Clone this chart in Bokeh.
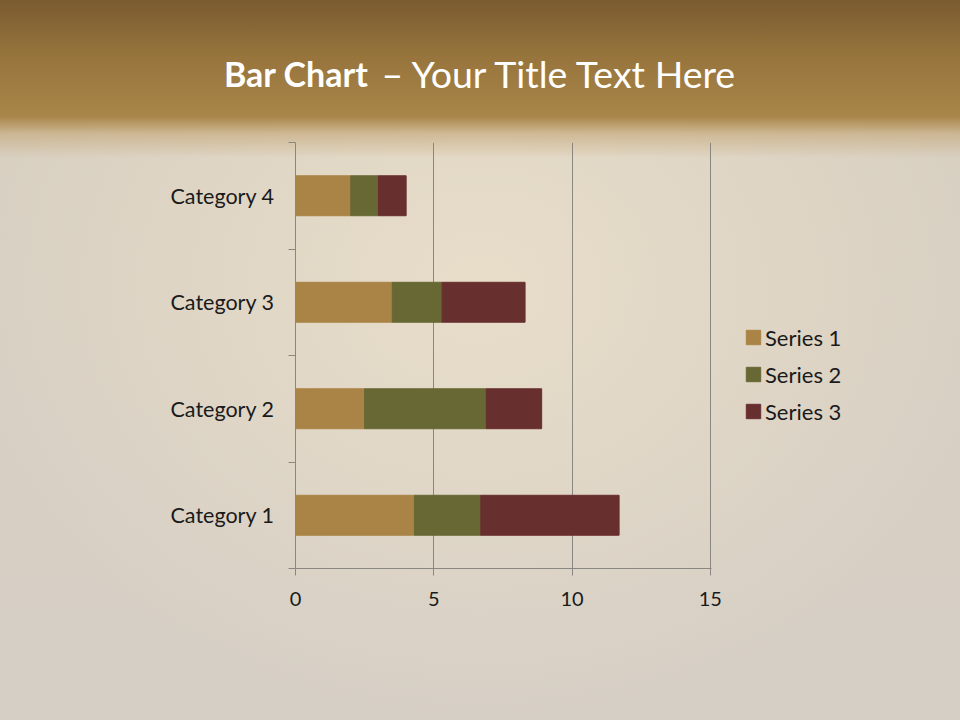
from bokeh.plotting import figure
from bokeh.layouts import column, row
from bokeh.models import ColumnDataSource, FixedTicker, Legend, LegendItem, Range1d
from bokeh.core.properties import value
from bokeh.embed import file_html
from bokeh.resources import INLINE

# ---- data ----
categories = ["Category 1", "Category 2", "Category 3", "Category 4"]
series_names = ["Series 1", "Series 2", "Series 3"]
series1 = [4.3, 2.5, 3.5, 2.0]
series2 = [2.4, 4.4, 1.8, 1.0]
series3 = [5.0, 2.0, 3.0, 1.0]
x_ticks = [0, 5, 10, 15]
title_bold = "Bar Chart"
title_rest = "– Your Title Text Here"

colors = ["#aa8446", "#676834", "#682f2f"]
axis_gray = "#8a8783"
FONT = "Lato"

positions = [i + 0.5 for i in range(len(categories))]
boundaries = list(range(len(categories) + 1))
src = ColumnDataSource(dict(y=positions, s1=series1, s2=series2, s3=series3))
stackers = ["s1", "s2", "s3"]


def bare(fig):
    fig.frame_align = False
    fig.background_fill_color = None
    fig.border_fill_color = None
    fig.outline_line_color = None


# ---- header with title ----
head = figure(width=960, height=140, output_backend="svg", toolbar_location=None,
              x_range=Range1d(0, 960), y_range=Range1d(140, 0),
              x_axis_type=None, y_axis_type=None, min_border=0)
bare(head)
head.grid.visible = False
head.text(x=[368], y=[73], text=[title_bold], text_font=value(FONT),
          text_font_style="bold", text_font_size="34px", text_color="white",
          text_align="right", text_baseline="alphabetic")
head.text(x=[381], y=[73], text=[title_rest], text_font=value(FONT),
          text_font_size="37.5px", text_color="white",
          text_align="left", text_baseline="alphabetic")

# ---- main chart ----
p = figure(width=730, height=580, output_backend="svg", toolbar_location=None,
           x_range=Range1d(0, x_ticks[-1] * 1.0027), y_range=Range1d(0, len(categories)),
           min_border_left=295, min_border_right=19,
           min_border_top=2, min_border_bottom=152)
bare(p)

renderers = p.hbar_stack(stackers, y="y", height=0.375, color=colors, source=src)

p.xaxis.ticker = FixedTicker(ticks=x_ticks)
p.xaxis.axis_line_color = axis_gray
p.xaxis.major_tick_line_color = axis_gray
p.xaxis.major_tick_out = 7
p.xaxis.major_tick_in = 0
p.xaxis.minor_tick_line_color = None
p.xaxis.major_label_text_font = FONT
p.xaxis.major_label_text_font_size = "20px"
p.xaxis.major_label_text_color = "#1a1a1a"
p.xaxis.major_label_standoff = 16

p.yaxis.ticker = FixedTicker(ticks=positions, minor_ticks=boundaries)
p.yaxis.major_label_overrides = {pos: cat for pos, cat in zip(positions, categories)}
p.yaxis.axis_line_color = axis_gray
p.yaxis.major_tick_line_color = None
p.yaxis.major_tick_out = 0
p.yaxis.major_tick_in = 0
p.yaxis.minor_tick_line_color = axis_gray
p.yaxis.minor_tick_out = 7
p.yaxis.minor_tick_in = 0
p.yaxis.major_label_text_font = FONT
p.yaxis.major_label_text_font_size = "21.5px"
p.yaxis.major_label_text_color = "#1a1a1a"
p.yaxis.major_label_standoff = 14

p.ygrid.visible = False
p.xgrid.grid_line_color = axis_gray
p.xgrid.grid_line_width = 1

# ---- legend panel (same series, legend only; bars kept out of its view) ----
lf = figure(width=230, height=580, output_backend="svg", toolbar_location=None,
            x_range=Range1d(-20, -10), y_range=Range1d(0, len(categories)),
            x_axis_type=None, y_axis_type=None, min_border=0)
bare(lf)
lf.grid.visible = False
lrs = lf.hbar_stack(stackers, y="y", height=0.375, color=colors, source=src)

legend = Legend(items=[LegendItem(label=n, renderers=[r]) for n, r in zip(series_names, lrs)],
                location=(14, 294), orientation="vertical",
                label_text_font=FONT, label_text_font_size="22px", label_text_color="#1a1a1a",
                glyph_width=18, glyph_height=18, label_standoff=3, label_height=30,
                spacing=7, padding=0, margin=0, border_line_color=None,
                background_fill_alpha=0)
lf.add_layout(legend)

layout = column(head, row(p, lf, spacing=0), spacing=0)
layout.styles = {
    "background": (
        "linear-gradient(to bottom, #7a5b30 0px, #96743c 55px, #a88548 116px, "
        "rgba(196,166,118,0.6) 134px, rgba(220,205,180,0) 158px), "
        "radial-gradient(ellipse 55% 60% at 50% 40%, rgba(234,223,202,0.9) 0%, "
        "rgba(234,223,202,0) 100%), "
        "linear-gradient(to bottom, #d8cfc0 0px, #d6cfc6 720px)"
    ),
    "width": "960px",
    "height": "720px",
}

open("out.html", "w").write(file_html(layout, INLINE))
